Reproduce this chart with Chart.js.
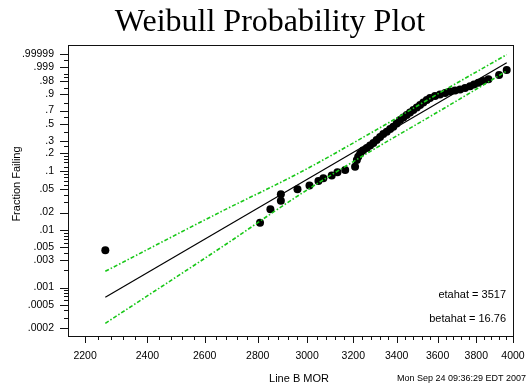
<!DOCTYPE html>
<html>
<head>
<meta charset="utf-8">
<script src="https://cdn.jsdelivr.net/npm/chart.js@4.4.1/dist/chart.umd.min.js"></script>
<style>
    html, body { margin: 0; padding: 0; background: #fff; }
</style>
</head>
<body>
<canvas id="weibullChart" width="527" height="389"></canvas>
<script>
    // Line B MOR sample (sorted) and plotted fraction failing
    const morValues = [2263, 2809, 2850, 2892, 2892, 2960, 3010, 3048, 3069, 3105, 3130, 3164, 3208,
        3216, 3222, 3231, 3244, 3261, 3276, 3291, 3306, 3322, 3337, 3353, 3369, 3384, 3400, 3416,
        3432, 3448, 3464, 3480, 3497, 3513, 3529, 3546, 3562, 3587, 3612, 3638, 3663, 3689, 3715,
        3741, 3767, 3788, 3811, 3836, 3865, 3923, 3965];
    const fractionFailing = [0.00444, 0.01335, 0.02275, 0.0320, 0.0411, 0.0500, 0.0580, 0.0691, 0.0766,
        0.0853, 0.0964, 0.1052, 0.1192, 0.1530, 0.1726, 0.1938, 0.2157, 0.2356, 0.2569, 0.2798, 0.3094,
        0.3412, 0.3755, 0.4032, 0.4374, 0.4678, 0.5118, 0.5618, 0.5983, 0.6351, 0.6719, 0.7082, 0.7437,
        0.7780, 0.8105, 0.8410, 0.8637, 0.8846, 0.8990, 0.9124, 0.9247, 0.9322, 0.9392, 0.9489, 0.9586,
        0.9674, 0.9748, 0.9805, 0.98525, 0.99333, 0.99780];

    // fitted line and pointwise bands
    const fitMor = [2263, 3965];
    const fitFraction = [0.000676, 0.99972];
    const bandMor = [2263, 2657, 2971, 3308, 3612, 3965];
    const upperFraction = [0.001915, 0.02036, 0.0961, 0.4323, 0.9149, 0.999988];
    const lowerFraction = [0.0002385, 0.004845, 0.04097, 0.2405, 0.6979, 0.9972];

    const xTicks = [2200, 2400, 2600, 2800, 3000, 3200, 3400, 3600, 3800, 4000];
    const yTickValues = [0.0002, 0.0005, 0.001, 0.003, 0.005, 0.01, 0.02, 0.05, 0.1, 0.2, 0.3, 0.5, 0.7, 0.9, 0.98, 0.999, 0.99999];
    const yTickLabels = ['.0002', '.0005', '.001', '.003', '.005', '.01', '.02', '.05', '.1', '.2', '.3', '.5', '.7', '.9', '.98', '.999', '.99999'];
    const yMinorTicks = [0.0003, 0.0004, 0.0006, 0.0007, 0.0008, 0.0009, 0.002, 0.004, 0.006, 0.007, 0.008, 0.009,
        0.03, 0.04, 0.06, 0.07, 0.08, 0.09, 0.12, 0.14, 0.16, 0.18, 0.25, 0.4, 0.6, 0.8, 0.95, 0.99, 0.995, 0.9999];

    const etahat = '3517';
    const betahat = '16.76';
    const stamp = 'Mon Sep 24 09:36:29 EDT 2007';

    const green = 'rgb(25, 200, 25)';
    const sans = 'Liberation Sans, Arial, sans-serif';

    // Weibull probability scale
    const weib = p => Math.log(-Math.log(1 - p));
    const pairs = (xs, ps) => xs.map((x, i) => ({x, y: weib(ps[i])}));

    function bandSet(ps) {
        return {
            type: 'line',
            data: pairs(bandMor, ps),
            borderColor: green,
            borderWidth: 1.6,
            borderDash: [4, 2, 1.5, 2],
            pointRadius: 0,
            cubicInterpolationMode: 'monotone',
            order: 0
        };
    }

    const decorations = {
        id: 'decorations',
        afterDraw(chart) {
            const {ctx, chartArea: a, scales: {x, y}} = chart;
            ctx.save();
            ctx.strokeStyle = '#111';
            ctx.lineWidth = 1;
            ctx.strokeRect(a.left + 0.5, a.top + 0.5, a.right - a.left, a.bottom - a.top);

            ctx.beginPath();
            for (let v = 2200; v <= 4000; v += 40) {
                const px = Math.round(x.getPixelForValue(v)) + 0.5;
                const len = xTicks.includes(v) ? 7 : 4;
                ctx.moveTo(px, a.bottom);
                ctx.lineTo(px, a.bottom + len);
            }
            yTickValues.concat(yMinorTicks).forEach(p => {
                const py = Math.round(y.getPixelForValue(weib(p))) + 0.5;
                const len = yTickValues.includes(p) ? 8 : 4;
                ctx.moveTo(a.left, py);
                ctx.lineTo(a.left - len, py);
            });
            ctx.stroke();

            ctx.fillStyle = '#000';
            ctx.textBaseline = 'alphabetic';
            ctx.textAlign = 'center';
            ctx.font = '32px "Liberation Serif", "Times New Roman", serif';
            ctx.fillText('Weibull Probability Plot', 270, 31);

            ctx.textBaseline = 'middle';
            ctx.font = '11px ' + sans;
            ctx.fillText('Line B MOR', 299, 379);

            ctx.textAlign = 'right';
            ctx.fillText('etahat = ' + etahat, 506, 295);
            ctx.fillText('betahat = ' + betahat, 506, 319);

            ctx.textAlign = 'left';
            ctx.font = '9px ' + sans;
            ctx.fillText(stamp, 397, 379);

            ctx.translate(17, 184);
            ctx.rotate(-Math.PI / 2);
            ctx.textAlign = 'center';
            ctx.font = '11px ' + sans;
            ctx.fillText('Fraction Failing', 0, 0);
            ctx.restore();
        }
    };

    new Chart(document.getElementById('weibullChart'), {
        type: 'scatter',
        data: {
            datasets: [
                {
                    type: 'line',
                    data: pairs(fitMor, fitFraction),
                    borderColor: '#000',
                    borderWidth: 1.2,
                    pointRadius: 0,
                    order: 0
                },
                bandSet(upperFraction),
                bandSet(lowerFraction),
                {
                    data: pairs(morValues, fractionFailing),
                    pointRadius: 4,
                    pointBackgroundColor: '#000',
                    pointBorderColor: '#000',
                    pointBorderWidth: 0,
                    order: 2
                }
            ]
        },
        options: {
            responsive: false,
            animation: false,
            devicePixelRatio: 1,
            layout: {padding: {top: 45, right: 14, left: 0, bottom: 0}},
            plugins: {legend: {display: false}, tooltip: {enabled: false}},
            scales: {
                x: {
                    type: 'logarithmic',
                    min: 2148,
                    max: 4000,
                    grid: {display: false, drawTicks: false},
                    border: {display: false},
                    ticks: {
                        autoSkip: false,
                        maxRotation: 0,
                        padding: 14,
                        color: '#000',
                        font: {family: sans, size: 10.5},
                        callback: value => String(value)
                    },
                    afterBuildTicks: scale => { scale.ticks = xTicks.map(value => ({value})); },
                    afterFit: scale => {
                        scale.height = 53;
                        scale.paddingLeft = 0;
                        scale.paddingRight = 0;
                    }
                },
                y: {
                    type: 'linear',
                    min: -8.85,
                    max: 2.814,
                    grid: {display: false, drawTicks: false},
                    border: {display: false},
                    ticks: {
                        autoSkip: false,
                        padding: 14,
                        color: '#000',
                        font: {family: sans, size: 10.5},
                        callback: (value, index) => yTickLabels[index]
                    },
                    afterBuildTicks: scale => { scale.ticks = yTickValues.map(p => ({value: weib(p)})); },
                    afterFit: scale => {
                        scale.width = 68;
                        scale.paddingTop = 0;
                        scale.paddingBottom = 0;
                    }
                }
            }
        },
        plugins: [decorations]
    });
</script>
</body>
</html>
